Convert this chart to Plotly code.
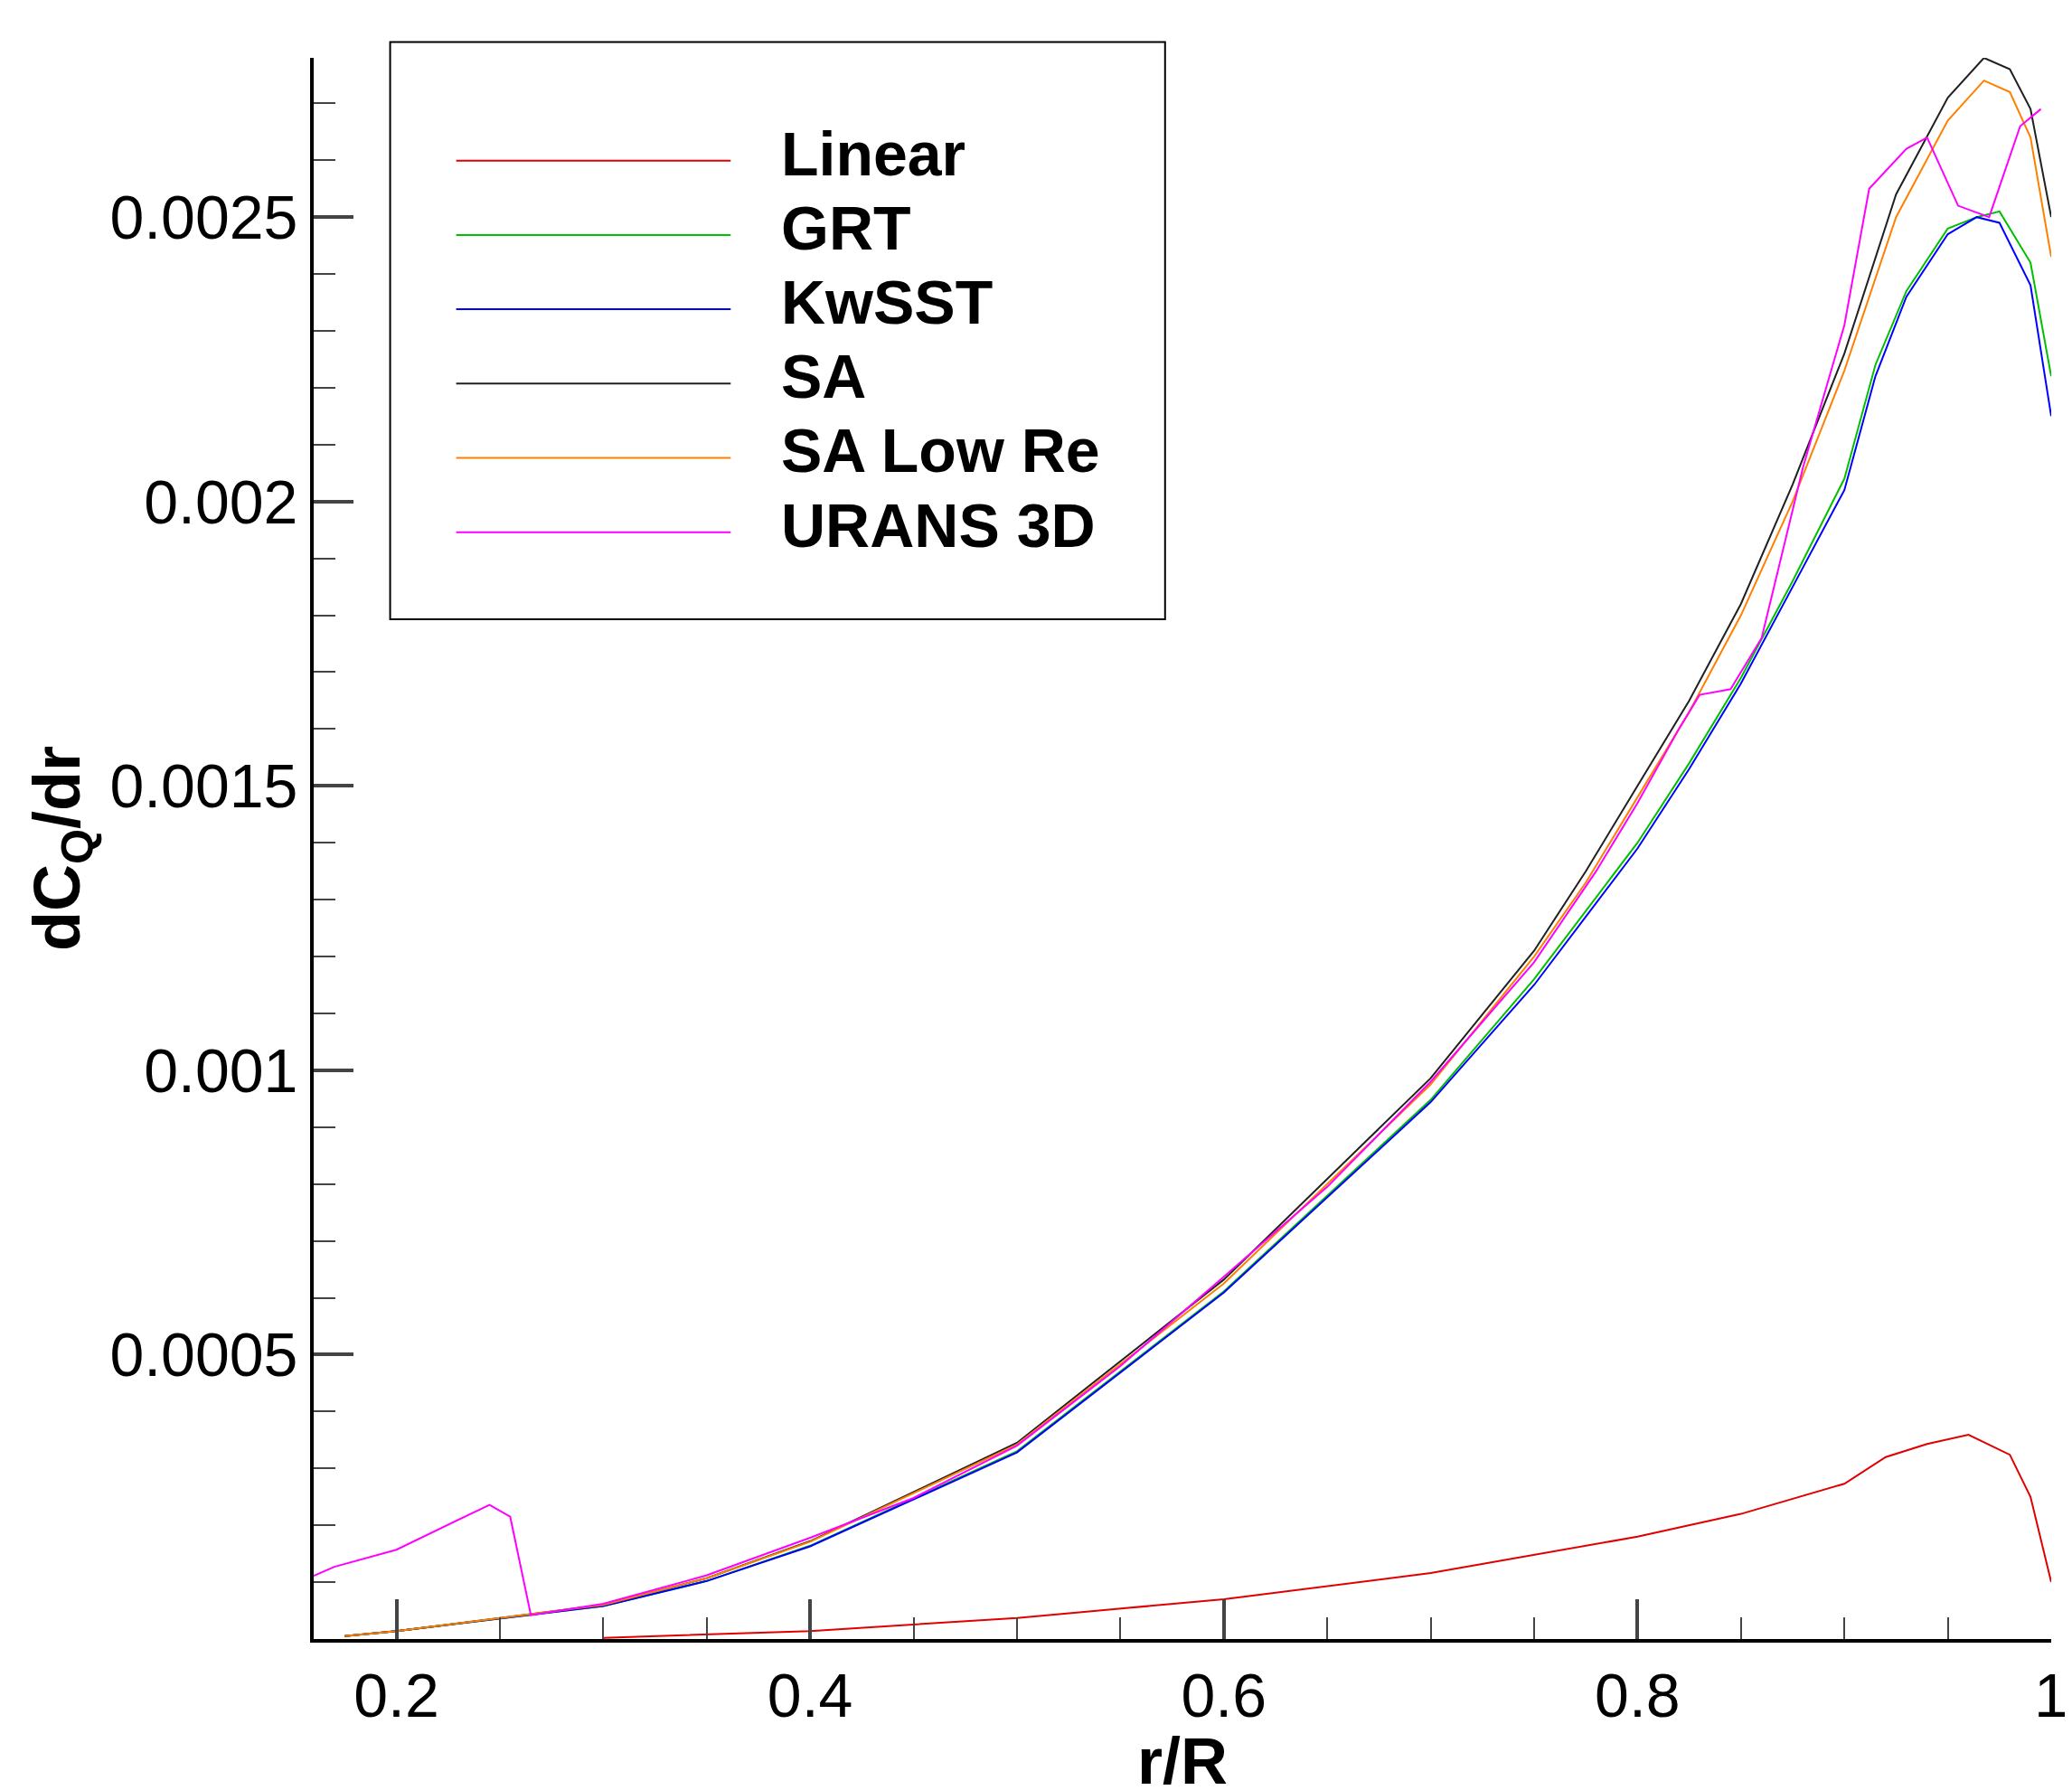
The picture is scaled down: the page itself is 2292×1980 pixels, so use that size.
import plotly.graph_objects as go

# r/R stations and dCQ/dr values
x_sa = [0.175, 0.2, 0.3, 0.35, 0.4, 0.5, 0.6, 0.7, 0.75, 0.775, 0.8, 0.825, 0.85, 0.875, 0.9, 0.925, 0.95, 0.9675, 0.98, 0.99, 1.0]
sa = [0.000005, 0.000014, 0.00006, 0.000107, 0.000172, 0.000345, 0.000632, 0.000986, 0.00121, 0.00135, 0.0015, 0.00165, 0.00182, 0.00203, 0.00226, 0.00254, 0.00271, 0.00278, 0.00276, 0.00269, 0.0025]
salow = [0.000005, 0.000014, 0.00006, 0.000107, 0.000171, 0.000342, 0.000625, 0.000975, 0.0012, 0.00133, 0.00148, 0.00163, 0.0018, 0.002, 0.00223, 0.0025, 0.00267, 0.00274, 0.00272, 0.00264, 0.00243]

x_k = [0.175, 0.2, 0.3, 0.35, 0.4, 0.5, 0.6, 0.7, 0.75, 0.775, 0.8, 0.825, 0.85, 0.875, 0.9, 0.915, 0.93, 0.95, 0.964, 0.975, 0.99, 1.0]
kwsst = [0.000005, 0.000014, 0.000058, 0.000102, 0.000163, 0.000328, 0.000609, 0.000944, 0.00115, 0.00127, 0.00139, 0.00153, 0.00168, 0.00185, 0.00202, 0.00222, 0.00236, 0.00247, 0.0025, 0.00249, 0.00238, 0.00215]
grt = [0.000005, 0.000014, 0.000058, 0.000102, 0.000164, 0.00033, 0.000611, 0.000948, 0.00116, 0.00128, 0.0014, 0.00154, 0.00169, 0.00186, 0.00204, 0.00224, 0.00237, 0.00248, 0.0025, 0.00251, 0.00242, 0.00222]

x_lin = [0.3, 0.4, 0.5, 0.6, 0.7, 0.8, 0.85, 0.9, 0.92, 0.94, 0.96, 0.98, 0.99, 1.0]
linear = [0.000002, 0.000014, 0.000037, 0.00007, 0.000116, 0.00018, 0.00022, 0.000273, 0.00032, 0.000343, 0.000359, 0.000324, 0.00025, 0.0001]

x_u = [0.16, 0.17, 0.2, 0.22, 0.24, 0.245, 0.255, 0.265, 0.3, 0.35, 0.4, 0.45, 0.5, 0.55, 0.6, 0.65, 0.7, 0.75, 0.78, 0.8, 0.82, 0.83, 0.845, 0.86, 0.88, 0.9, 0.912, 0.93, 0.94, 0.955, 0.97, 0.985, 0.995]
urans = [0.000111, 0.000127, 0.000157, 0.000192, 0.000227, 0.000236, 0.000215, 0.000042, 0.000062, 0.000112, 0.000178, 0.000248, 0.00034, 0.00048, 0.000637, 0.000795, 0.00098, 0.00119, 0.00135, 0.00147, 0.0016, 0.00166, 0.00167, 0.00176, 0.00206, 0.00231, 0.00255, 0.00262, 0.00264, 0.00252, 0.0025, 0.00266, 0.00269]

series = [
    ("Linear", x_lin, linear, "#e00000"),
    ("GRT", x_k, grt, "#00c000"),
    ("KwSST", x_k, kwsst, "#0000ff"),
    ("SA", x_sa, sa, "#202020"),
    ("SA Low Re", x_sa, salow, "#ff8000"),
    ("URANS 3D", x_u, urans, "#ff00ff"),
]

fig = go.Figure()
for name, xs, ys, col in series:
    fig.add_trace(go.Scatter(x=xs, y=ys, mode="lines", name=name,
                             line=dict(color=col, width=2), showlegend=False))

# hand-drawn legend box like the original
fig.add_shape(type="rect", xref="paper", yref="paper", x0=0.044, x1=0.49, y0=0.645, y1=1.01,
              line=dict(color="black", width=2), fillcolor="white")
for i, (name, xs, ys, col) in enumerate(series):
    yy = 0.935 - i * 0.047
    fig.add_shape(type="line", xref="paper", yref="paper", x0=0.082, x1=0.24, y0=yy, y1=yy,
                  line=dict(color=col, width=2))
    fig.add_annotation(xref="paper", yref="paper", x=0.268, y=yy, text="<b>%s</b>" % name,
                       showarrow=False, xanchor="left", yanchor="middle", yshift=8,
                       font=dict(size=68, color="black"))

fig.update_xaxes(range=[0.16, 1.0], tickvals=[0.2, 0.4, 0.6, 0.8, 1.0],
                 ticktext=["0.2", "0.4", "0.6", "0.8", "1"],
                 ticks="inside", ticklen=44, tickwidth=4, showline=True, linewidth=4, linecolor="black",
                 minor=dict(dtick=0.05, tick0=0, ticks="inside", ticklen=24, tickwidth=2),
                 showgrid=False, zeroline=False,
                 title=dict(text="<b>r/R</b>", font=dict(size=72), standoff=0))
fig.update_yaxes(range=[0, 0.00278], tickvals=[0.0005, 0.001, 0.0015, 0.002, 0.0025],
                 ticktext=["0.0005", "0.001", "0.0015", "0.002", "0.0025"],
                 ticks="inside", ticklen=44, tickwidth=4, showline=True, linewidth=4, linecolor="black",
                 minor=dict(dtick=0.0001, tick0=0, ticks="inside", ticklen=24, tickwidth=2),
                 showgrid=False, zeroline=False,
                 title=dict(text="<b>dC<sub>Q</sub>/dr</b>", font=dict(size=72), standoff=10))

fig.update_layout(width=2292, height=1980, plot_bgcolor="white", paper_bgcolor="white",
                  font=dict(family="Liberation Sans, Arial", size=68, color="black"),
                  margin=dict(l=339, r=29, t=56, b=175))

fig.write_html("out.html")
